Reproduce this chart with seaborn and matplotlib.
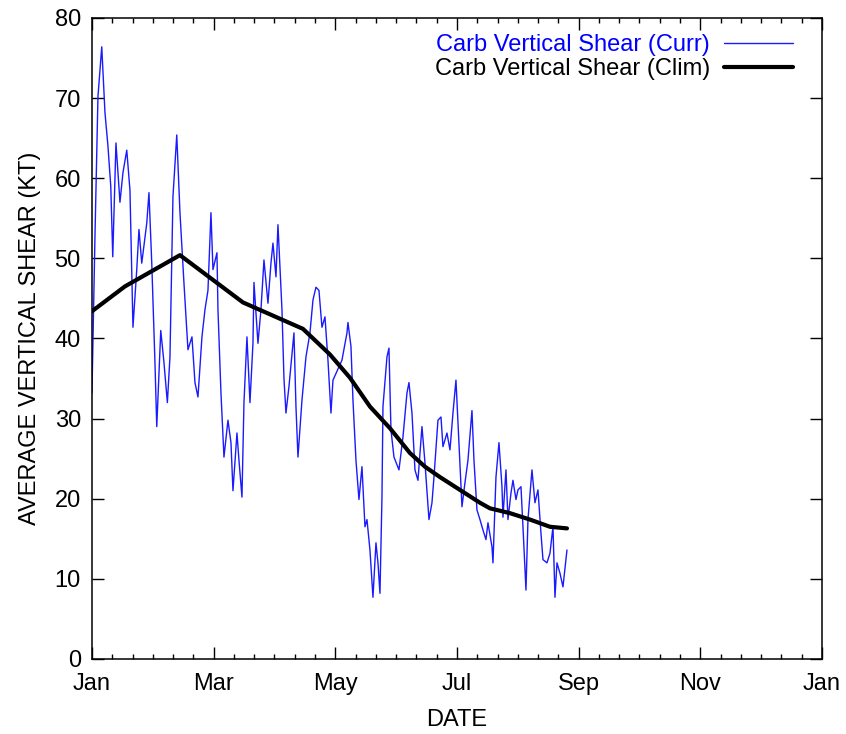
import seaborn as sns
import numpy as np
import matplotlib.pyplot as plt
import pandas as pd

# day of year for the current-season trace
curr_day = [0, 1.5, 3, 4.9, 6.5, 8, 9.4, 10.4, 12, 14, 15.5, 17.4, 19, 20.5, 22.4,
            23.5, 24.9, 27.4, 28.5, 29.9, 31.5, 32.4, 34.4, 36, 37.7, 39, 40.5,
            42.4, 44, 46, 48, 50, 51.5, 53, 55, 56.5, 58, 59.5, 60.5, 62.5, 63,
            64.5, 66, 68, 69.5, 70.5, 72.5, 73.5, 75, 76, 77.5, 79, 80.5, 81, 83,
            84.5, 86, 88, 89.5, 90.5, 92, 93, 95, 96, 97, 98.5, 101, 102, 103,
            105, 107, 109, 110.5, 112, 113.5, 115, 116.5, 118, 119.5, 120.5, 125,
            127.5, 128, 129.5, 130.5, 132, 133.5, 135, 136.5, 137.5, 139, 140.5,
            142, 143, 144, 145, 145.5, 147.5, 148.5, 149.5, 151, 153.5, 155.5,
            157.5, 158.5, 160, 161.5, 163, 165, 166.5, 168.5, 170, 171, 173,
            174.5, 175.5, 177.5, 179, 180.5, 182, 183, 184.5, 185, 186.5, 188,
            190, 191, 192.5, 194, 195.5, 197, 198, 200, 200.5, 202, 203.5, 205,
            205.5, 207, 208, 209.5, 210.5, 212, 213, 214.5, 215.5, 217, 218, 220,
            221.5, 223, 224.5, 225.5, 227.5, 229, 230.5, 231.5, 232.5, 234,
            235.5, 237.5]
curr_shear = [33.2, 52.7, 70.2, 76.4, 68.2, 64, 59, 50.2, 64.4, 57, 60.7, 63.5,
              58.5, 41.4, 48.6, 53.6, 49.4, 54.4, 58.2, 49.4, 37, 29, 41, 37, 32,
              37.7, 57.7, 65.4, 55.7, 46.9, 38.6, 40.2, 34.5, 32.7, 40.2, 43.6,
              46, 55.7, 48.6, 50.7, 43.6, 33.2, 25.2, 29.8, 27, 21, 28.2, 24.8,
              20.2, 32, 40.2, 32, 39.4, 47, 39.4, 43.6, 49.8, 44.4, 49.4, 51.9,
              47.7, 54.2, 43.6, 35, 30.7, 34, 40.7, 31.5, 25.2, 32.3, 37.7, 40.7,
              44.8, 46.4, 46, 41.4, 42.7, 37.3, 30.7, 34.8, 37.3, 40.7, 42, 39,
              32.3, 24.8, 19.9, 24, 16.5, 17.4, 13.6, 7.7, 14.5, 12, 8.2, 20.2,
              31.5, 37.7, 38.8, 28.6, 25.2, 23.6, 27.7, 33.2, 34.5, 30.7, 23.6,
              22.3, 29, 24.5, 17.4, 19.5, 22.7, 29.8, 30.2, 26.5, 28.2, 26.1,
              30.7, 34.8, 29.5, 21.5, 19, 22, 24.8, 31, 24.8, 18.6, 17.4, 16.1,
              14.9, 17, 14, 12, 22.7, 27, 21.5, 17.7, 23.6, 17.4, 20.7, 22.3,
              19.9, 21.1, 21.5, 16.5, 8.6, 17.4, 23.6, 19.5, 21.1, 15.7, 12.4,
              12, 13.2, 16.5, 7.7, 12, 10.7, 9, 13.6]

# climatology
clim_day = [0, 16.5, 44, 75.5, 105.5, 119, 129, 139, 149, 159, 166.5, 174, 184,
            194, 199, 209, 219, 229, 237.5]
clim_shear = [43.4, 46.5, 50.4, 44.5, 41.2, 38, 35.1, 31.5, 28.8, 25.7, 24,
              22.7, 21.1, 19.5, 18.8, 18.2, 17.4, 16.5, 16.3]

month_labels = ['Jan', 'Mar', 'May', 'Jul', 'Sep', 'Nov', 'Jan']

df_curr = pd.DataFrame({'day': curr_day, 'shear': curr_shear})
df_clim = pd.DataFrame({'day': clim_day, 'shear': clim_shear})

sns.set_style("ticks")
plt.rcParams['font.family'] = ['Liberation Sans', 'DejaVu Sans']
plt.rcParams['text.color'] = 'black'
plt.rcParams['axes.labelcolor'] = 'black'

fig = plt.figure(figsize=(8.46, 7.34), dpi=100)
ax = fig.add_axes([0.1087, 0.1022, 0.8629, 0.8733])

sns.lineplot(data=df_curr, x='day', y='shear', ax=ax, color='#1a1aff',
             lw=1.0, sort=False, estimator=None,
             label='Carb Vertical Shear (Curr)')
sns.lineplot(data=df_clim, x='day', y='shear', ax=ax, color='black',
             lw=3.0, sort=False, estimator=None,
             label='Carb Vertical Shear (Clim)')

ax.set_xlim(0, 365)
ax.set_ylim(0, 80)
ax.set_xticks(np.linspace(0, 365, 7))
ax.set_xticklabels(month_labels)
ax.set_xticks(np.linspace(0, 365, 37), minor=True)
ax.set_yticks(np.arange(0, 81, 10))

ax.tick_params(which='both', direction='in', top=True, right=True,
               labelsize=17, colors='black', width=1.0)
ax.tick_params(which='major', length=8.5)
ax.tick_params(which='minor', length=3.5)
ax.tick_params(axis='x', pad=10)
ax.tick_params(axis='y', pad=8)
for s in ax.spines.values():
    s.set_linewidth(1.1)
    s.set_color('black')

ax.set_xlabel('DATE', fontsize=17, labelpad=10)
ax.set_ylabel('AVERAGE VERTICAL SHEAR (KT)', fontsize=17, labelpad=10)

leg = ax.legend(loc='upper right', bbox_to_anchor=(0.973, 0.99),
                borderaxespad=0, frameon=False, fontsize=17,
                markerfirst=False, handlelength=2.9, labelspacing=0.1,
                handletextpad=0.6, labelcolor=['blue', 'black'])

plt.savefig("out.png", dpi=100)
